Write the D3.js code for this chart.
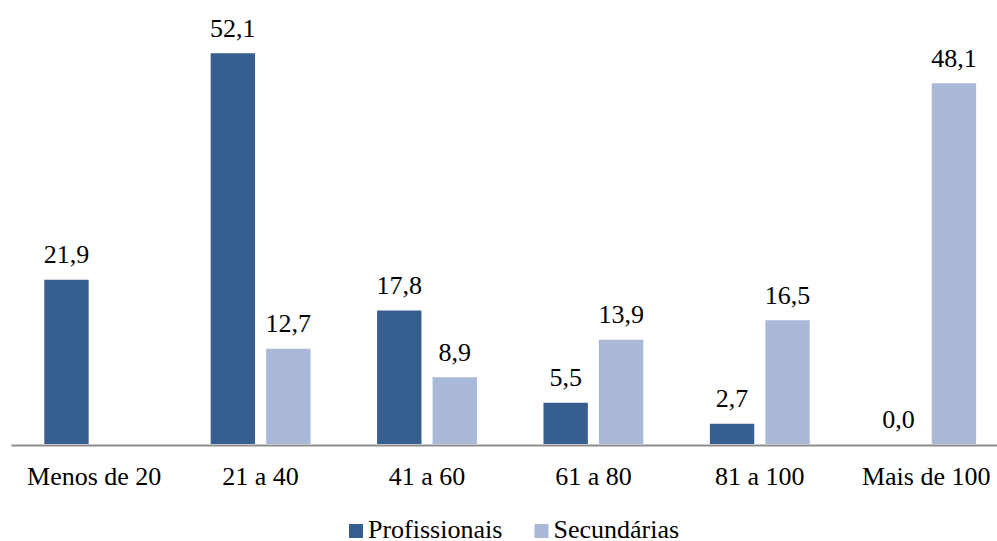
<!DOCTYPE html>
<html>
<head>
<meta charset="utf-8">
<script src="https://cdn.jsdelivr.net/npm/d3@7/dist/d3.min.js"></script>
<style>
  html, body { margin: 0; padding: 0; background: #ffffff; }
  svg { display: block; }
</style>
</head>
<body>
<svg id="chart" width="997" height="541"></svg>
<script>
// Faixas de dimensão e percentagens por tipo de escola
const categories = ["Menos de 20", "21 a 40", "41 a 60", "61 a 80", "81 a 100", "Mais de 100"];
const seriesNames = ["Profissionais", "Secundárias"];
const profissionais = [21.9, 52.1, 17.8, 5.5, 2.7, 0.0];
const secundarias = [null, 12.7, 8.9, 13.9, 16.5, 48.1];
const seriesColors = ["#365F8F", "#A9B9D7"];

// Texto com 30px reduzido para 26px efetivos
const FONT = "Liberation Serif";
const BASE_SIZE = 30;
const K = 26 / 30;

const seriesValues = [profissionais, secundarias];
const rows = categories.map((c, i) => ({
  category: c,
  values: seriesNames.map((s, k) => ({ series: s, value: seriesValues[k][i] }))
}));
const points = rows.flatMap(r =>
  r.values.filter(v => v.value !== null).map(v => ({ category: r.category, ...v })));

const svg = d3.select("#chart");
const baseY = 444;

const x0 = d3.scaleBand().domain(categories).range([11, 1009.4]).padding(0);
const x1 = d3.scaleBand().domain(seriesNames).range([0, x0.bandwidth()])
  .paddingInner(0.2).paddingOuter(0.6);
const y = d3.scaleLinear().domain([0, 59.2]).range([baseY, 0]);
const color = d3.scaleOrdinal().domain(seriesNames).range(seriesColors);

const pt = d3.formatLocale({ decimal: ",", thousands: ".", grouping: [3], currency: ["", " €"] });
const fmt = pt.format(".1f");

const barX = d => x0(d.category) + x1(d.series);

svg.selectAll("rect.bar")
  .data(points).join("rect")
  .attr("class", "bar")
  .attr("x", barX)
  .attr("width", x1.bandwidth())
  .attr("y", d => y(d.value))
  .attr("height", d => y(0) - y(d.value))
  .attr("fill", d => color(d.series));

// Eixo das categorias (apenas a linha)
const xAxis = svg.append("g")
  .attr("transform", `translate(0,${baseY + 1})`)
  .call(d3.axisBottom(x0).tickSize(0).tickSizeOuter(0).tickFormat(""));
xAxis.select(".domain").attr("stroke", "#8C8C8C").attr("stroke-width", 2);
xAxis.selectAll(".tick").remove();

// Valores sobre as barras
svg.selectAll("text.val")
  .data(points).join("text")
  .attr("class", "val")
  .attr("transform", d =>
    `translate(${barX(d) + x1.bandwidth() / 2},${y(d.value) - 16.5}) scale(${K})`)
  .attr("text-anchor", "middle")
  .style("font-family", FONT)
  .style("font-size", BASE_SIZE + "px")
  .text(d => fmt(d.value));

// Rótulos das categorias
svg.selectAll("text.cat")
  .data(categories).join("text")
  .attr("class", "cat")
  .attr("transform", d => `translate(${x0(d) + x0.bandwidth() / 2},${baseY + 41}) scale(${K})`)
  .attr("text-anchor", "middle")
  .style("font-family", FONT)
  .style("font-size", BASE_SIZE + "px")
  .text(d => d);

// Legenda
const legendX = [349, 534.5];
svg.selectAll("rect.key")
  .data(seriesNames).join("rect")
  .attr("class", "key")
  .attr("x", (d, i) => legendX[i]).attr("y", 524)
  .attr("width", 14).attr("height", 14)
  .attr("fill", d => color(d));
svg.selectAll("text.key")
  .data(seriesNames).join("text")
  .attr("class", "key")
  .attr("transform", (d, i) => `translate(${legendX[i] + 19},538) scale(${K})`)
  .style("font-family", FONT)
  .style("font-size", BASE_SIZE + "px")
  .text(d => d);
</script>
</body>
</html>
